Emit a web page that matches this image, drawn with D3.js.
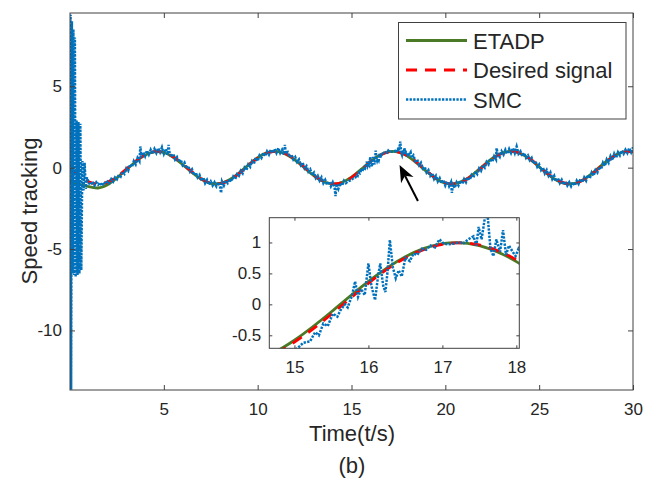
<!DOCTYPE html>
<html>
<head>
<meta charset="utf-8">
<script src="https://cdn.jsdelivr.net/npm/d3@7"></script>
<style>
body { margin: 0; background: #fff; }
text { font-family: "Liberation Sans", Arial, sans-serif; fill: #262626; }
</style>
</head>
<body>
<script>
// ---- data ----
var sampleTimes = [0,0.5,1,1.5,2,2.5,3,3.5,4,4.5,5,5.5,6,6.5,7,7.5,8,8.5,9,9.5,
   10,10.5,11,11.5,12,12.5,13,13.5,14,14.5,15,15.5,16,16.5,17,17.5,18,18.5,19,19.5,
   20,20.5,21,21.5,22,22.5,23,23.5,24,24.5,25,25.5,26,26.5,27,27.5,28,28.5,29,29.5,30];

var desiredSignal = [-0.12,-0.52,-0.87,-1.00,-0.89,-0.56,-0.09,0.40,0.79,0.99,
   0.94,0.67,0.23,-0.26,-0.69,-0.95,-0.98,-0.77,-0.37,0.13,
   0.59,0.90,1.00,0.85,0.50,0.02,-0.47,-0.83,-1.00,-0.92,
   -0.61,-0.16,0.34,0.75,0.97,0.96,0.72,0.30,-0.20,-0.65,
   -0.93,-0.99,-0.81,-0.43,0.06,0.53,0.87,1.00,0.88,0.55,
   0.08,-0.41,-0.79,-0.99,-0.94,-0.66,-0.22,0.27,0.70,0.96,0.98];

var etadpSignal = [-0.85,-1.02,-1.17,-1.25,-1.05,-0.63,-0.13,0.36,0.77,0.97,
   0.93,0.64,0.19,-0.30,-0.72,-0.97,-0.97,-0.74,-0.33,0.16,
   0.62,0.92,1.00,0.83,0.46,-0.02,-0.50,-0.85,-1.00,-0.90,
   -0.58,-0.12,0.37,0.77,0.98,0.95,0.69,0.26,-0.24,-0.68,
   -0.95,-0.99,-0.78,-0.39,0.10,0.57,0.89,1.00,0.87,0.52,
   0.04,-0.44,-0.82,-0.99,-0.93,-0.63,-0.18,0.31,0.73,0.97,0.97];

// SMC samples [time, value]
var smcSamples = [
   [0,-0.2],[0.03,9.4],[0.06,-13.65],[0.1,9.0],[0.14,-6.5],[0.18,8.5],[0.22,-6.6],[0.26,8.0],
   [0.3,-6.7],[0.35,2.9],[0.4,-6.6],[0.45,2.8],[0.5,-6.5],[0.55,2.7],[0.6,-6.3],[0.66,0.4],
   [0.72,-1.4],[0.78,0.3],[0.84,-1.3],[0.9,-0.6],
   [1.0,-0.95],[1.1,-1.05],[1.2,-0.85],[1.3,-1.1],[1.4,-0.9],[1.5,-1.05],[1.6,-0.92],[1.7,-1.12],
   [1.8,-0.9],[1.9,-1.0],[2.0,-0.85],[2.1,-0.95],[2.2,-0.7],[2.3,-0.85],[2.4,-0.6],[2.5,-0.72],
   [2.6,-0.45],[2.7,-0.55],[2.8,-0.25],[2.9,-0.38],[3.0,-0.05],[3.1,-0.2],[3.2,0.2],[3.3,0.05],
   [3.4,0.4],[3.5,0.2],[3.6,0.6],[3.7,0.4],[3.75,1.3],[3.8,0.65],[3.9,0.95],[4.0,0.7],
   [4.1,1.05],[4.2,0.8],[4.3,1.1],[4.4,0.85],[4.5,1.15],[4.6,0.9],[4.7,1.2],[4.8,0.95],
   [4.9,1.25],[5.0,0.85],[5.1,1.15],[5.2,0.8],[5.25,1.4],[5.3,0.95],[5.4,0.65],[5.5,0.85],
   [5.6,0.5],[5.7,0.65],[5.8,0.35],[5.9,0.5],[6.0,0.15],[6.1,0.3],[6.2,-0.05],[6.3,0.1],
   [6.4,-0.25],[6.5,-0.1],[6.6,-0.45],[6.7,-0.3],[6.8,-0.6],[6.9,-0.45],[7.0,-0.8],[7.1,-0.6],
   [7.2,-0.95],[7.3,-0.75],[7.4,-1.05],[7.5,-0.85],[7.6,-1.1],[7.7,-0.9],[7.8,-1.15],[7.9,-0.9],
   [8.0,-1.2],[8.05,-1.55],[8.1,-0.85],[8.2,-1.1],[8.3,-0.8],[8.4,-0.95],[8.5,-0.7],[8.6,-0.85],
   [8.7,-0.55],[8.8,-0.7],[8.9,-0.4],[9.0,-0.5],[9.1,-0.2],[9.2,-0.35],[9.3,0.0],[9.4,-0.15],
   [9.5,0.2],[9.6,0.05],[9.7,0.4],[9.8,0.25],[9.9,0.6],[10.0,0.4],[10.1,0.75],[10.2,0.6],
   [10.3,0.9],[10.4,0.7],[10.5,1.0],[10.6,0.8],[10.7,1.1],[10.8,0.9],[10.9,1.15],[11.0,0.9],
   [11.1,1.2],[11.2,0.9],[11.3,1.1],[11.4,0.8],[11.45,1.4],[11.5,0.85],[11.6,0.95],[11.7,0.65],
   [11.8,0.8],[11.9,0.5],[12.0,0.65],[12.1,0.35],[12.2,0.5],[12.3,0.15],[12.4,0.3],[12.5,-0.05],
   [12.6,0.1],[12.7,-0.25],[12.8,-0.1],[12.9,-0.45],[13.0,-0.3],[13.1,-0.65],[13.2,-0.5],[13.3,-0.8],
   [13.4,-0.6],[13.5,-0.95],[13.6,-0.75],[13.7,-1.05],[13.8,-0.85],[13.9,-1.15],[14.0,-0.9],[14.1,-1.25],
   [14.15,-1.75],[14.2,-1.0],[14.3,-1.3],[14.4,-0.95],[14.5,-1.1],[14.6,-0.8],[14.7,-0.95],
   [14.8,-0.85],[14.95,-0.78],[15.05,-0.7],[15.12,-0.62],[15.21,-0.6],[15.28,-0.45],[15.33,-0.5],
   [15.39,-0.31],[15.45,-0.35],[15.52,-0.15],[15.58,-0.2],[15.62,-0.1],[15.68,0.0],[15.72,-0.05],
   [15.78,0.15],[15.82,0.37],[15.86,0.12],[15.9,0.25],[15.95,0.15],[16.0,0.66],[16.04,0.3],
   [16.09,0.07],[16.13,0.45],[16.16,0.66],[16.2,0.3],[16.23,0.2],[16.26,0.55],[16.29,1.04],
   [16.33,0.6],[16.37,0.42],[16.41,0.55],[16.45,0.45],[16.5,0.75],[16.56,0.7],[16.61,0.82],
   [16.66,0.8],[16.72,0.9],[16.78,0.88],[16.84,0.95],[16.9,0.92],[16.96,1.05],[17.02,0.98],
   [17.08,0.97],[17.15,0.98],[17.22,1.0],[17.29,0.99],[17.35,1.05],[17.42,1.1],[17.46,0.95],
   [17.49,1.25],[17.53,1.05],[17.6,1.6],[17.65,0.9],[17.69,0.78],[17.73,1.05],[17.78,0.85],
   [17.82,1.2],[17.86,0.8],[17.9,0.95],[17.95,0.85],[17.99,0.78],[18.03,0.9],[18.08,0.82],
   [18.15,0.95],[18.2,0.6],[18.3,0.75],[18.4,0.4],[18.5,0.5],[18.6,0.15],[18.7,0.3],[18.8,-0.05],
   [18.9,0.05],[19.0,-0.3],[19.1,-0.15],[19.2,-0.5],[19.3,-0.35],[19.4,-0.7],[19.5,-0.5],[19.6,-0.85],
   [19.7,-0.65],[19.8,-0.95],[19.9,-0.75],[20.0,-1.1],[20.1,-0.85],[20.2,-1.15],[20.3,-0.9],[20.35,-1.55],
   [20.4,-1.05],[20.5,-1.25],[20.6,-0.9],[20.7,-1.1],[20.8,-0.8],[20.9,-1.0],[21.0,-0.7],[21.1,-0.9],
   [21.2,-0.6],[21.3,-0.75],[21.4,-0.45],[21.5,-0.6],[21.6,-0.25],[21.7,-0.4],[21.8,-0.05],[21.9,-0.2],
   [22.0,0.15],[22.1,0.0],[22.2,0.35],[22.3,0.2],[22.4,0.55],[22.5,0.35],[22.6,0.7],[22.7,0.5],
   [22.73,1.2],[22.8,0.8],[22.9,0.65],[23.0,1.0],[23.1,0.8],[23.2,1.1],[23.3,0.85],[23.4,1.15],
   [23.5,0.9],[23.6,1.2],[23.7,0.9],[23.8,1.3],[23.9,0.85],[24.0,1.0],[24.1,0.7],[24.2,0.9],
   [24.3,0.6],[24.4,0.75],[24.5,0.45],[24.6,0.6],[24.7,0.25],[24.8,0.4],[24.9,0.05],[25.0,0.2],
   [25.1,-0.15],[25.2,0.0],[25.3,-0.35],[25.4,-0.15],[25.5,-0.5],[25.6,-0.3],[25.7,-0.7],[25.8,-0.5],
   [25.9,-0.85],[26.0,-0.65],[26.1,-0.95],[26.2,-0.75],[26.3,-1.05],[26.4,-0.85],[26.5,-1.1],[26.6,-0.9],
   [26.7,-1.15],[26.8,-0.9],[26.9,-1.1],[27.0,-0.8],[27.1,-1.0],[27.2,-0.7],[27.3,-0.9],[27.4,-0.6],
   [27.5,-0.8],[27.6,-0.45],[27.7,-0.65],[27.8,-0.3],[27.9,-0.5],[28.0,-0.15],[28.1,-0.3],[28.2,0.05],
   [28.3,-0.1],[28.4,0.3],[28.5,0.1],[28.6,0.5],[28.7,0.3],[28.8,0.7],[28.9,0.45],[29.0,0.85],
   [29.1,0.6],[29.2,0.95],[29.3,0.75],[29.4,1.05],[29.5,0.85],[29.6,1.1],[29.7,0.9],[29.8,1.2],
   [29.9,0.95],[30.0,1.25]
];

var mainXTicks = [5, 10, 15, 20, 25, 30];
var mainYTicks = [-10, -5, 0, 5];
var insetXTicks = [15, 16, 17, 18];
var insetYTicks = [-0.5, 0, 0.5, 1];
var seriesNames = ["ETADP", "Desired signal", "SMC"];
// arrow annotation [time, value]: tail, tip
var arrowPoints = [[18.54, -2.05], [17.56, 0.16]];

var colors = { etadp: "#4a7a26", desired: "#ff0000", smc: "#0072bd", axis: "#404040" };

var width = 654;
var height = 484;

var svg = d3.select("body")
            .append("svg")
               .attr("width", width)
               .attr("height", height);

var desiredData = sampleTimes.map(function(t, i) { return [t, desiredSignal[i]]; });
var etadpData = sampleTimes.map(function(t, i) { return [t, etadpSignal[i]]; });

function drawPanel(g, xs, ys, id) {
   var r = xs.range(), rr = ys.range();
   g.append("clipPath").attr("id", id)
      .append("rect")
         .attr("x", r[0]).attr("y", rr[1])
         .attr("width", r[1] - r[0]).attr("height", rr[0] - rr[1]);

   var smooth = d3.line()
      .x(function(d) { return xs(d[0]); })
      .y(function(d) { return ys(d[1]); })
      .curve(d3.curveNatural);
   var raw = d3.line()
      .x(function(d) { return xs(d[0]); })
      .y(function(d) { return ys(d[1]); });

   var lines = g.append("g").attr("clip-path", "url(#" + id + ")");
   lines.append("path").attr("d", smooth(etadpData))
      .attr("fill", "none").attr("stroke", colors.etadp).attr("stroke-width", 2.8);
   lines.append("path").attr("d", smooth(desiredData))
      .attr("fill", "none").attr("stroke", colors.desired).attr("stroke-width", 2.8)
      .attr("stroke-dasharray", "11,8");
   lines.append("path").attr("d", raw(smcSamples))
      .attr("fill", "none").attr("stroke", colors.smc).attr("stroke-width", 2.5)
      .attr("stroke-dasharray", "2.3,1.3");
}

function drawAxes(g, xs, ys, xt, yt, tickLen, fontSize) {
   var r = xs.range(), rr = ys.range();
   var fmt = function(d) { return String(d); };

   g.append("g")
      .attr("transform", "translate(0," + rr[0] + ")")
      .call(d3.axisBottom(xs).tickValues(xt).tickFormat(fmt).tickSizeInner(-tickLen).tickSizeOuter(0).tickPadding(13));
   g.append("g")
      .attr("transform", "translate(" + r[0] + ",0)")
      .call(d3.axisLeft(ys).tickValues(yt).tickFormat(fmt).tickSizeInner(-tickLen).tickSizeOuter(0).tickPadding(8));
   g.append("g")
      .attr("transform", "translate(0," + rr[1] + ")")
      .call(d3.axisTop(xs).tickValues(xt).tickFormat("").tickSizeInner(-tickLen).tickSizeOuter(0));
   g.append("g")
      .attr("transform", "translate(" + r[1] + ",0)")
      .call(d3.axisRight(ys).tickValues(yt).tickFormat("").tickSizeInner(-tickLen).tickSizeOuter(0));

   g.selectAll(".domain").remove();
   g.selectAll(".tick line").attr("stroke", colors.axis);
   g.selectAll(".tick text")
      .attr("fill", "#262626")
      .style("font-size", fontSize + "px")
      .style("font-family", "'Liberation Sans', Arial, sans-serif");

   g.append("rect")
      .attr("x", r[0]).attr("y", rr[1])
      .attr("width", r[1] - r[0]).attr("height", rr[0] - rr[1])
      .attr("fill", "none").attr("stroke", colors.axis).attr("stroke-width", 1);
}

// ---- main axes ----
var x = d3.scaleLinear().domain([0, 30]).range([70, 633]);
var y = d3.scaleLinear().domain([-13.66, 9.5]).range([390, 13]);

var main = svg.append("g");
drawPanel(main, x, y, "clipMain");
drawAxes(main, x, y, mainXTicks, mainYTicks, 5, 17);

// arrow
var tail = [x(arrowPoints[0][0]), y(arrowPoints[0][1])];
var tip = [x(arrowPoints[1][0]), y(arrowPoints[1][1])];
var dx = tip[0] - tail[0], dy = tip[1] - tail[1];
var len = Math.sqrt(dx * dx + dy * dy);
var ux = dx / len, uy = dy / len, nx = -uy, ny = ux;
var headL = 17, headW = 7, notch = 12;
main.append("line")
   .attr("x1", tail[0]).attr("y1", tail[1])
   .attr("x2", tip[0] - ux * notch).attr("y2", tip[1] - uy * notch)
   .attr("stroke", "#000").attr("stroke-width", 2);
main.append("path")
   .attr("d", "M" + tip[0] + "," + tip[1] +
      "L" + (tip[0] - ux * headL + nx * headW) + "," + (tip[1] - uy * headL + ny * headW) +
      "L" + (tip[0] - ux * notch) + "," + (tip[1] - uy * notch) +
      "L" + (tip[0] - ux * headL - nx * headW) + "," + (tip[1] - uy * headL - ny * headW) + "Z")
   .attr("fill", "#000");

// labels
svg.append("text")
   .attr("x", 352).attr("y", 441)
   .attr("text-anchor", "middle")
   .style("font-size", "22px")
   .text("Time(t/s)");
svg.append("text")
   .attr("x", 352).attr("y", 473)
   .attr("text-anchor", "middle")
   .style("font-size", "22px")
   .text("(b)");
svg.append("text")
   .attr("transform", "translate(37,211) rotate(-90)")
   .attr("text-anchor", "middle")
   .style("font-size", "22px")
   .text("Speed tracking");

// ---- inset ----
var xi = d3.scaleLinear().domain([14.66, 18.04]).range([269.3, 519.3]);
var yi = d3.scaleLinear().domain([-0.71, 1.4]).range([348.3, 217.7]);

var inset = svg.append("g");
inset.append("rect")
   .attr("x", 269.3).attr("y", 217.7)
   .attr("width", 250).attr("height", 130.6)
   .attr("fill", "#fff");
drawPanel(inset, xi, yi, "clipInset");
drawAxes(inset, xi, yi, insetXTicks, insetYTicks, 3, 17);

// ---- legend ----
var legend = svg.append("g");
legend.append("rect")
   .attr("x", 398.5).attr("y", 22.5)
   .attr("width", 227.5).attr("height", 96.5)
   .attr("fill", "#fff").attr("stroke", colors.axis).attr("stroke-width", 1);

var legendStyles = [
   { color: colors.etadp, width: 2.8, dash: null },
   { color: colors.desired, width: 2.8, dash: "11,8" },
   { color: colors.smc, width: 2.5, dash: "2.3,1.3" }
];
seriesNames.forEach(function(name, i) {
   var cy = 40.5 + i * 29.5;
   var s = legendStyles[i];
   var ln = legend.append("line")
      .attr("x1", 406).attr("x2", 467)
      .attr("y1", cy).attr("y2", cy)
      .attr("stroke", s.color).attr("stroke-width", s.width);
   if (s.dash) ln.attr("stroke-dasharray", s.dash);
   legend.append("text")
      .attr("x", 473).attr("y", cy + 8)
      .style("font-size", "22px")
      .attr("fill", "#000")
      .text(name);
});
</script>
</body>
</html>
